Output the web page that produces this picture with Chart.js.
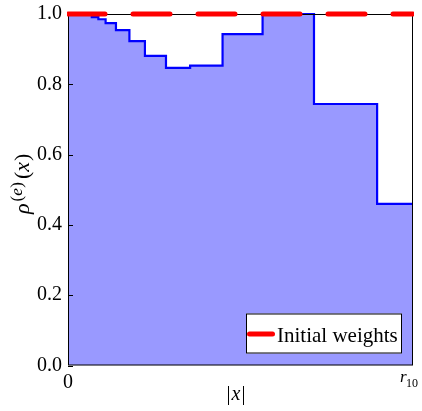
<!DOCTYPE html>
<html>
<head>
<meta charset="utf-8">
<script src="https://cdn.jsdelivr.net/npm/chart.js@4.4.1/dist/chart.umd.min.js"></script>
<style>
html, body { margin: 0; padding: 0; background: #fff; }
#wrap { width: 422px; height: 411px; }
</style>
</head>
<body>
<div id="wrap"><canvas id="c" width="422" height="411"></canvas></div>
<script>
// shell edges (as fraction of r_10) and the density on each shell
const shellEdges = [0, 0.069, 0.088, 0.109, 0.139, 0.178, 0.223, 0.284, 0.354, 0.448, 0.564, 0.713, 0.896, 1.0];
const rhoValues = [1.0, 0.991, 0.985, 0.974, 0.954, 0.923, 0.881, 0.847, 0.853, 0.943, 1.0, 0.744, 0.460];
const initialX = [0, 1];
const initialWeights = [1.0, 1.0];
const yTicks = [0, 0.2, 0.4, 0.6, 0.8, 1.0];
const xTicks = [0, 1];

const SERIF = '"Liberation Serif", "DejaVu Serif", serif';
Chart.defaults.font.family = SERIF;
Chart.defaults.color = '#000';

const stepPts = rhoValues.map((v, i) => ({ x: shellEdges[i], y: v }));
stepPts.push({ x: shellEdges[shellEdges.length - 1], y: rhoValues[rhoValues.length - 1] });

const decor = {
    id: 'decor',
    afterDatasetDraw(chart, args) {
        if (args.index !== 1) return;
        const { ctx, chartArea: a, scales } = chart;
        ctx.save();
        ctx.strokeStyle = '#000';
        ctx.lineWidth = 1;
        ctx.strokeRect(a.left + 0.5, a.top + 0.5, a.right - a.left - 1, a.bottom - a.top - 1);
        // inward tick marks
        ctx.beginPath();
        yTicks.forEach(v => {
            const py = Math.round(scales.y.getPixelForValue(v)) + 0.5;
            ctx.moveTo(a.left, py); ctx.lineTo(a.left + 5, py);
        });
        ctx.stroke();
        ctx.restore();
    },
    afterDraw(chart) {
        const { ctx, chartArea: a, scales } = chart;
        ctx.save();
        ctx.fillStyle = '#000';
        ctx.textBaseline = 'alphabetic';
        ctx.textAlign = 'left';

        // r_10 tick label
        const xr = scales.x.getPixelForValue(xTicks[1]);
        ctx.font = 'italic 17px ' + SERIF;
        ctx.fillText('r', xr - 13, 382);
        ctx.font = '12px ' + SERIF;
        ctx.fillText('10', xr - 7, 387);

        // x axis label |x|
        ctx.font = '20px ' + SERIF;
        const barW = ctx.measureText('|').width;
        ctx.font = 'italic 20px ' + SERIF;
        const xW = ctx.measureText('x').width;
        const lx = 236 - (2 * barW + xW + 2) / 2;
        ctx.font = '20px ' + SERIF;
        ctx.fillText('|', lx, 400);
        ctx.font = 'italic 20px ' + SERIF;
        ctx.fillText('x', lx + barW + 1, 400);
        ctx.font = '20px ' + SERIF;
        ctx.fillText('|', lx + barW + xW + 2, 400);

        // y axis label rho^(e)(x)
        ctx.save();
        ctx.translate(29, 214);
        ctx.rotate(-Math.PI / 2);
        ctx.font = 'italic 22px ' + SERIF;
        ctx.fillText('ρ', 0, 0);
        let ex = ctx.measureText('ρ').width + 2;
        ctx.font = '17px ' + SERIF;
        ctx.fillText('(', ex, -7);
        ex += ctx.measureText('(').width;
        ctx.font = 'italic 17px ' + SERIF;
        ctx.fillText('e', ex, -7);
        ex += ctx.measureText('e').width + 0.5;
        ctx.font = '17px ' + SERIF;
        ctx.fillText(')', ex, -7);
        let px = ex + ctx.measureText(')').width + 3;
        ctx.font = '22px ' + SERIF;
        ctx.fillText('(', px, 0);
        px += ctx.measureText('(').width;
        ctx.font = 'italic 22px ' + SERIF;
        ctx.fillText('x', px, 0);
        px += ctx.measureText('x').width + 1;
        ctx.font = '22px ' + SERIF;
        ctx.fillText(')', px, 0);
        ctx.restore();

        // legend
        const bx = a.right - 167, by = a.bottom - 52, bw = 156, bh = 40;
        ctx.fillStyle = '#fff';
        ctx.fillRect(bx, by, bw, bh);
        ctx.strokeStyle = '#000';
        ctx.lineWidth = 1;
        ctx.strokeRect(bx + 0.5, by + 0.5, bw - 1, bh - 1);
        ctx.strokeStyle = '#ff0000';
        ctx.lineWidth = 5;
        ctx.lineCap = 'round';
        ctx.beginPath();
        ctx.moveTo(bx + 3.5, by + 20.5);
        ctx.lineTo(bx + 26.5, by + 20.5);
        ctx.stroke();
        ctx.fillStyle = '#000';
        ctx.font = '21px ' + SERIF;
        ctx.fillText(chart.data.datasets[0].label, bx + 31, by + 28);
        ctx.restore();
    }
};

new Chart(document.getElementById('c'), {
    type: 'line',
    data: {
        datasets: [
            {
                label: 'Initial weights',
                data: initialX.map((x, i) => ({ x, y: initialWeights[i] })),
                borderColor: '#ff0000',
                borderWidth: 5,
                borderDash: [37, 28],
                borderCapStyle: 'round',
                pointRadius: 0,
                fill: false,
                clip: { left: 1, right: 1, top: 4, bottom: 0 },
            },
            {
                label: 'rho',
                data: stepPts,
                stepped: 'before',
                borderColor: '#0000ff',
                borderWidth: 2.2,
                backgroundColor: '#9999ff',
                fill: 'origin',
                pointRadius: 0,
                clip: 2,
            },
        ],
    },
    options: {
        responsive: false,
        animation: false,
        layout: { padding: { left: 0, top: 14, right: 9, bottom: 0 } },
        plugins: { legend: { display: false }, tooltip: { enabled: false } },
        scales: {
            x: {
                type: 'linear', min: 0, max: 1,
                grid: { display: false, drawTicks: false },
                border: { display: false },
                afterBuildTicks: s => { s.ticks = xTicks.map(v => ({ value: v })); },
                afterFit: s => { s.height = 45.5; s.paddingLeft = 0; s.paddingRight = 0; },
                ticks: {
                    padding: 5,
                    maxRotation: 0,
                    font: { size: 20 },
                    callback: v => (v === 0 ? '0' : ''),
                },
            },
            y: {
                type: 'linear', min: 0, max: 1,
                grid: { display: false, drawTicks: false },
                border: { display: false },
                afterBuildTicks: s => { s.ticks = yTicks.map(v => ({ value: v })); },
                afterFit: s => { s.width = 68; s.paddingTop = 0; s.paddingBottom = 0; },
                ticks: {
                    padding: 6,
                    font: { size: 20 },
                    callback: v => v.toFixed(1),
                },
            },
        },
    },
    plugins: [decor],
});
</script>
</body>
</html>
